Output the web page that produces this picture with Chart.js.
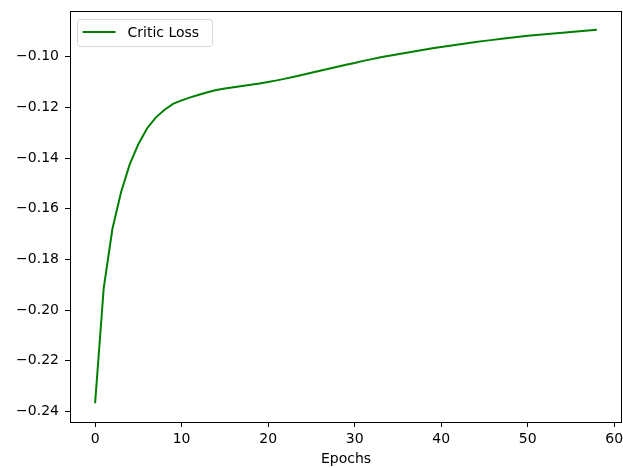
<!DOCTYPE html>
<html>
<head>
<meta charset="utf-8">
<script src="https://cdn.jsdelivr.net/npm/chart.js@4/dist/chart.umd.min.js"></script>
<style>
  html, body { margin: 0; padding: 0; background: #fff; }
  #wrap { width: 623px; height: 468px; }
</style>
</head>
<body>
<div id="wrap"><canvas id="lossChart" width="623" height="468"></canvas></div>
<script>
// values
var epochs = [];
for (var e = 0; e <= 58; e++) epochs.push(e);
var criticLoss = [
    -0.2368, -0.1912, -0.1680, -0.1535, -0.1425, -0.1345, -0.1283, -0.1240, -0.1210, -0.1186,
    -0.1172, -0.1160, -0.1150, -0.1140, -0.1131, -0.1125, -0.1120, -0.1115, -0.1110, -0.1105,
    -0.1099, -0.1093, -0.1086, -0.1079, -0.1071, -0.1063, -0.1055, -0.1047, -0.1039, -0.1031,
    -0.1024, -0.1016, -0.1009, -0.1002, -0.0996, -0.0990, -0.0984, -0.0978, -0.0972, -0.0966,
    -0.0961, -0.0956, -0.0951, -0.0946, -0.0941, -0.0937, -0.0933, -0.0929, -0.0925, -0.0921,
    -0.0917, -0.0914, -0.0911, -0.0908, -0.0905, -0.0902, -0.0899, -0.0896, -0.0893
];
var xTicks = [0, 10, 20, 30, 40, 50, 60];
var yTicks = [-0.24, -0.22, -0.20, -0.18, -0.16, -0.14, -0.12, -0.10];
var seriesLabel = 'Critic Loss';
var xTitle = 'Epochs';

var fontFamily = '"DejaVu Sans", sans-serif';

function fmtY(v) {
    var s = Math.abs(v).toFixed(2);
    return (v < 0 ? '\u2212' : '') + s;
}

// box around the plot + legend in upper left, like matplotlib
var framePlugin = {
    id: 'frame',
    afterDraw: function (chart) {
        var ctx = chart.ctx;
        var a = chart.chartArea;
        ctx.save();
        ctx.strokeStyle = '#000';
        ctx.lineWidth = 1;
        ctx.strokeRect(Math.round(a.left) + 0.5, Math.round(a.top) + 0.5,
            Math.round(a.right - a.left) - 1, Math.round(a.bottom - a.top));

        // legend
        var ds = chart.data.datasets[0];
        var bx = Math.round(a.left) + 7.5, by = Math.round(a.top) + 8.5, bw = 135, bh = 27, r = 3;
        ctx.beginPath();
        ctx.moveTo(bx + r, by);
        ctx.arcTo(bx + bw, by, bx + bw, by + bh, r);
        ctx.arcTo(bx + bw, by + bh, bx, by + bh, r);
        ctx.arcTo(bx, by + bh, bx, by, r);
        ctx.arcTo(bx, by, bx + bw, by, r);
        ctx.closePath();
        ctx.fillStyle = 'rgba(255,255,255,0.8)';
        ctx.fill();
        ctx.strokeStyle = '#d6d6d6';
        ctx.stroke();
        var ly = by + 12.5;
        ctx.beginPath();
        ctx.moveTo(bx + 5, ly);
        ctx.lineTo(bx + 38, ly);
        ctx.strokeStyle = ds.borderColor;
        ctx.lineWidth = 2;
        ctx.stroke();
        ctx.fillStyle = '#000';
        ctx.font = '14px ' + fontFamily;
        ctx.textBaseline = 'middle';
        ctx.textAlign = 'left';
        ctx.fillText(ds.label, bx + 50, ly + 1);
        ctx.restore();
    }
};

var ctx = document.getElementById('lossChart').getContext('2d');
var lossChart = new Chart(ctx, {
    type: 'line',
    data: {
        labels: epochs,
        datasets: [{
            label: seriesLabel,
            data: epochs.map(function (x, i) { return { x: x, y: criticLoss[i] }; }),
            borderColor: '#008000',
            backgroundColor: '#008000',
            borderWidth: 2,
            pointRadius: 0,
            tension: 0,
            fill: false
        }]
    },
    options: {
        responsive: false,
        animation: false,
        events: [],
        layout: { padding: { top: 11, right: 1, left: 0, bottom: 0 } },
        plugins: {
            legend: { display: false },
            tooltip: { enabled: false }
        },
        scales: {
            x: {
                type: 'linear',
                min: -2.9,
                max: 60.9,
                afterBuildTicks: function (scale) {
                    scale.ticks = xTicks.map(function (v) { return { value: v }; });
                },
                afterFit: function (scale) {
                    scale.height = 46;
                    scale.paddingLeft = 0;
                    scale.paddingRight = 0;
                },
                grid: {
                    drawOnChartArea: false,
                    drawTicks: true,
                    tickLength: 5,
                    color: '#000'
                },
                border: { display: false },
                ticks: {
                    color: '#000',
                    padding: 4,
                    maxRotation: 0,
                    font: { family: fontFamily, size: 14 },
                    callback: function (v) { return String(v); }
                },
                title: {
                    display: true,
                    text: xTitle,
                    color: '#000',
                    padding: { top: 1, bottom: 0 },
                    font: { family: fontFamily, size: 14 }
                }
            },
            y: {
                type: 'linear',
                min: -0.2442,
                max: -0.0819,
                afterBuildTicks: function (scale) {
                    scale.ticks = yTicks.map(function (v) { return { value: v }; });
                },
                afterFit: function (scale) {
                    scale.width = 70;
                    scale.paddingTop = 0;
                    scale.paddingBottom = 0;
                },
                grid: {
                    drawOnChartArea: false,
                    drawTicks: true,
                    tickLength: 5,
                    color: '#000'
                },
                border: { display: false },
                ticks: {
                    color: '#000',
                    padding: 6,
                    font: { family: fontFamily, size: 14 },
                    callback: function (v) { return fmtY(v); }
                }
            }
        }
    },
    plugins: [framePlugin]
});
</script>
</body>
</html>
